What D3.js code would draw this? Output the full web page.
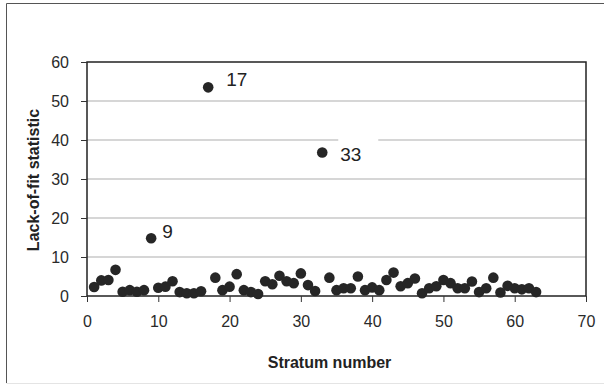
<!DOCTYPE html>
<html>
<head>
<meta charset="utf-8">
<script src="https://cdn.jsdelivr.net/npm/d3@7"></script>
<style>
  body { margin: 0; background: #fff; }
  svg { display: block; font-family: "Liberation Sans", Arial, sans-serif; }
</style>
</head>
<body>
<script>
// stratum numbers and lack-of-fit values
const strata = d3.range(1, 64);
const lackOfFit = [
  2.3, 4.0, 4.1, 6.7, 1.1, 1.5, 1.1, 1.5, 14.8, 2.1,
  2.4, 3.8, 1.0, 0.7, 0.7, 1.2, 53.5, 4.7, 1.5, 2.4,
  5.6, 1.5, 1.0, 0.5, 3.8, 3.0, 5.2, 3.8, 3.3, 5.8,
  2.8, 1.3, 36.8, 4.7, 1.5, 2.0, 2.0, 5.0, 1.5, 2.2,
  1.5, 4.1, 6.0, 2.5, 3.3, 4.5, 0.7, 2.0, 2.5, 4.1,
  3.3, 2.0, 2.0, 3.7, 1.0, 2.0, 4.7, 0.9, 2.6, 2.0,
  1.7, 2.0, 1.0
];
const labelled = [9, 17, 33];
const xTicks = [0, 10, 20, 30, 40, 50, 60, 70];
const yTicks = [0, 10, 20, 30, 40, 50, 60];

const canvWidth = 604, canvHeight = 385;
const margin = {top: 62, right: 18, bottom: 89, left: 87};
const width = canvWidth - margin.left - margin.right;
const height = canvHeight - margin.top - margin.bottom;

const svg = d3.select("body").append("svg")
    .attr("width", canvWidth)
    .attr("height", canvHeight);

// outer frame of the figure
svg.append("line").attr("x1", 6.5).attr("x2", 6.5).attr("y1", 3.5).attr("y2", 383)
    .attr("stroke", "#555").attr("stroke-width", 1);
svg.append("line").attr("x1", 6.5).attr("x2", 604).attr("y1", 3.5).attr("y2", 3.5)
    .attr("stroke", "#555").attr("stroke-width", 1);
svg.append("line").attr("x1", 6.5).attr("x2", 604).attr("y1", 383.5).attr("y2", 383.5)
    .attr("stroke", "#e4e4e4").attr("stroke-width", 1);

const g = svg.append("g")
    .attr("transform", `translate(${margin.left},${margin.top})`);

const xScale = d3.scaleLinear().domain([0, 70]).range([0, width]);
const yScale = d3.scaleLinear().domain([0, 60]).range([height, 0]);

// gridlines
g.selectAll("line.grid")
    .data(yTicks.filter(d => d > 0 && d < 60))
    .enter().append("line")
    .attr("class", "grid")
    .attr("x1", 0).attr("x2", width)
    .attr("y1", d => yScale(d)).attr("y2", d => yScale(d))
    .attr("stroke", "#c8c8c8")
    .attr("stroke-width", 1.5);

// plot frame
g.append("rect")
    .attr("x", 0).attr("y", 0)
    .attr("width", width).attr("height", height)
    .attr("fill", "none")
    .attr("stroke", "#222")
    .attr("stroke-width", 1.5);

const xAxis = d3.axisBottom(xScale).tickValues(xTicks).tickSize(6).tickPadding(14);
const yAxis = d3.axisLeft(yScale).tickValues(yTicks).tickSize(6).tickPadding(12);

const xg = g.append("g")
    .attr("transform", `translate(0,${height})`)
    .call(xAxis);
const yg = g.append("g").call(yAxis);

[xg, yg].forEach(a => {
  a.select(".domain").remove();
  a.selectAll(".tick line").attr("stroke", "#333").attr("stroke-width", 1);
  a.selectAll(".tick text")
      .attr("font-family", "Liberation Sans, Arial, sans-serif")
      .attr("font-size", "16px")
      .attr("fill", "#2a2a2a");
});

// axis titles
svg.append("text")
    .attr("x", margin.left + width / 2 - 7)
    .attr("y", 368)
    .attr("font-size", "16px")
    .attr("font-weight", "bold")
    .attr("fill", "#222")
    .style("text-anchor", "middle")
    .text("Stratum number");

svg.append("text")
    .attr("transform", "rotate(-90)")
    .attr("x", -180)
    .attr("y", 39)
    .attr("font-size", "16px")
    .attr("font-weight", "bold")
    .attr("fill", "#222")
    .style("text-anchor", "middle")
    .text("Lack-of-fit statistic");

// points
const pts = strata.map((s, i) => ({s: s, v: lackOfFit[i]}));

g.selectAll("circle")
    .data(pts)
    .enter().append("circle")
    .attr("cx", d => xScale(d.s))
    .attr("cy", d => yScale(d.v))
    .attr("r", 5.3)
    .attr("fill", "#262626");

// labels of the outlying strata
const lab = g.selectAll("g.lab")
    .data(pts.filter(d => labelled.includes(d.s)))
    .enter().append("g")
    .attr("class", "lab");

lab.filter(d => d.s === 33).append("rect")
    .attr("x", d => xScale(d.s) + 16)
    .attr("y", d => yScale(40) - 1)
    .attr("width", 40)
    .attr("height", 4)
    .attr("fill", "#fff");

lab.append("text")
    .attr("x", d => xScale(d.s) + (d.s === 9 ? 11 : 18))
    .attr("y", d => yScale(d.v) + (d.s === 9 ? 0 : (d.s === 33 ? 9 : -1)))
    .attr("font-size", "19px")
    .attr("fill", "#222")
    .text(d => d.s);
</script>
</body>
</html>
